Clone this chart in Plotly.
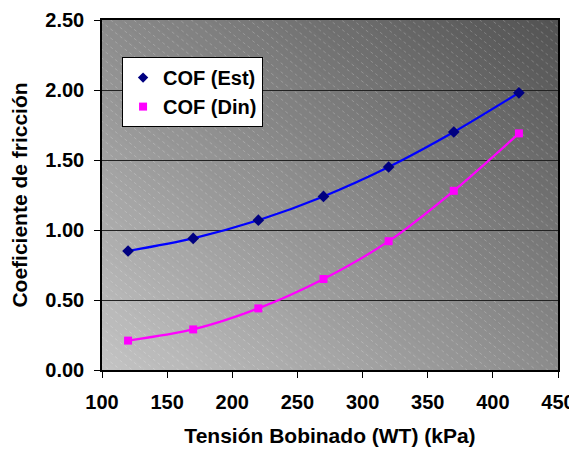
import plotly.graph_objects as go

# ---- data ----
tension_kpa = [120, 170, 220, 270, 320, 370, 420]
cof_est = [0.85, 0.94, 1.07, 1.24, 1.45, 1.70, 1.98]
cof_din = [0.21, 0.29, 0.44, 0.65, 0.92, 1.28, 1.69]
x_ticks = [100, 150, 200, 250, 300, 350, 400, 450]
y_ticks = [0.0, 0.5, 1.0, 1.5, 2.0, 2.5]

XMIN, XMAX = 100, 450
YMIN, YMAX = 0.0, 2.5
PLOT_W, PLOT_H = 456, 350  # approx pixel size of plotting area

FONT = "Liberation Sans, Arial, sans-serif"

fig = go.Figure()

for name, ys, lc, mc, sym in [
    ("COF (Est)", cof_est, "#0000FF", "#000080", "diamond"),
    ("COF (Din)", cof_din, "#FF00FF", "#FF00FF", "square"),
]:
    fig.add_trace(go.Scatter(
        x=tension_kpa, y=ys, mode="lines+markers", name=name,
        line=dict(color=lc, width=2.2, shape="spline", smoothing=0.8),
        marker=dict(symbol=sym, color=mc, size=9 if sym == "diamond" else 8),
        showlegend=False,
    ))
    fig.add_trace(go.Scatter(
        x=[None], y=[None], mode="markers", name=name,
        marker=dict(symbol=sym, color=mc, size=8),
        showlegend=True,
    ))

# ---- background: diagonal gradient (shapes below grid) ----
def to_data(u, v):
    return XMIN + u * (XMAX - XMIN), YMIN + v * (YMAX - YMIN)

shapes = []
N = 60
g0, g1 = 196, 82  # bottom-left light, top-right dark
for k in range(N):
    s0 = 2.0 * k / N - (0.02 if k == 0 else 0)
    s1 = 2.0 * (k + 1) / N + (0.02 if k == N - 1 else 0.004)
    sm = (2.0 * k + 1) / N / 2.0
    g = round(g0 + (g1 - g0) * sm)
    col = f"rgb({g},{g},{g})"
    pts = [to_data(-1, s0 + 1), to_data(2, s0 - 2), to_data(2, s1 - 2), to_data(-1, s1 + 1)]
    path = "M " + " L ".join(f"{px},{py}" for px, py in pts) + " Z"
    shapes.append(dict(type="path", path=path, xref="x", yref="y", layer="below",
                       fillcolor=col, line=dict(width=0)))

# hatch lines (decorative texture)
dxu = (XMAX - XMIN) / PLOT_W
dyu = (YMAX - YMIN) / PLOT_H
slope = 0.78
segs = []
c = -slope * PLOT_W - 20
while c < PLOT_H + 20:
    xa, xb = -20, PLOT_W + 20
    ya, yb = slope * xa + c, slope * xb + c
    segs.append(f"M {XMIN + xa*dxu},{YMAX - ya*dyu} L {XMIN + xb*dxu},{YMAX - yb*dyu}")
    c += 9
shapes.append(dict(type="path", path=" ".join(segs), xref="x", yref="y", layer="below",
                   line=dict(color="rgba(255,255,255,0.22)", width=1, dash="dot")))

fig.update_layout(
    width=569, height=441,
    margin=dict(l=94, r=19, t=12, b=79),
    paper_bgcolor="white", plot_bgcolor="rgba(0,0,0,0)",
    font=dict(family=FONT, size=20, color="black", weight="bold"),
    shapes=shapes,
    showlegend=True,
    legend=dict(x=0.044, y=0.894, xanchor="left", yanchor="top",
                bgcolor="white", bordercolor="black", borderwidth=1,
                font=dict(family=FONT, size=20, color="black", weight="bold"),
                tracegroupgap=0, itemwidth=30),
)
fig.update_xaxes(
    range=[XMIN, XMAX], tickvals=x_ticks, ticks="outside", ticklen=6, tickcolor="black",
    automargin=False, ticklabelstandoff=7,
    showline=True, linecolor="black", linewidth=1.5, mirror=True, showgrid=False, zeroline=False,
    title=dict(text="Tensión Bobinado (WT) (kPa)", standoff=17,
               font=dict(family=FONT, size=21, weight="bold")),
    tickfont=dict(family=FONT, size=20, weight="bold"),
)
fig.update_yaxes(
    range=[YMIN, YMAX], tickvals=y_ticks, tickformat=".2f", ticks="outside", ticklen=6, tickcolor="black",
    automargin=False, ticklabelstandoff=6,
    showline=True, linecolor="black", linewidth=1.5, mirror=True,
    showgrid=True, gridcolor="#222222", gridwidth=1, zeroline=False,
    title=dict(text="Coeficiente de fricción", standoff=13,
               font=dict(family=FONT, size=21, weight="bold")),
    tickfont=dict(family=FONT, size=20, weight="bold"),
)

fig.write_html("out.html")
